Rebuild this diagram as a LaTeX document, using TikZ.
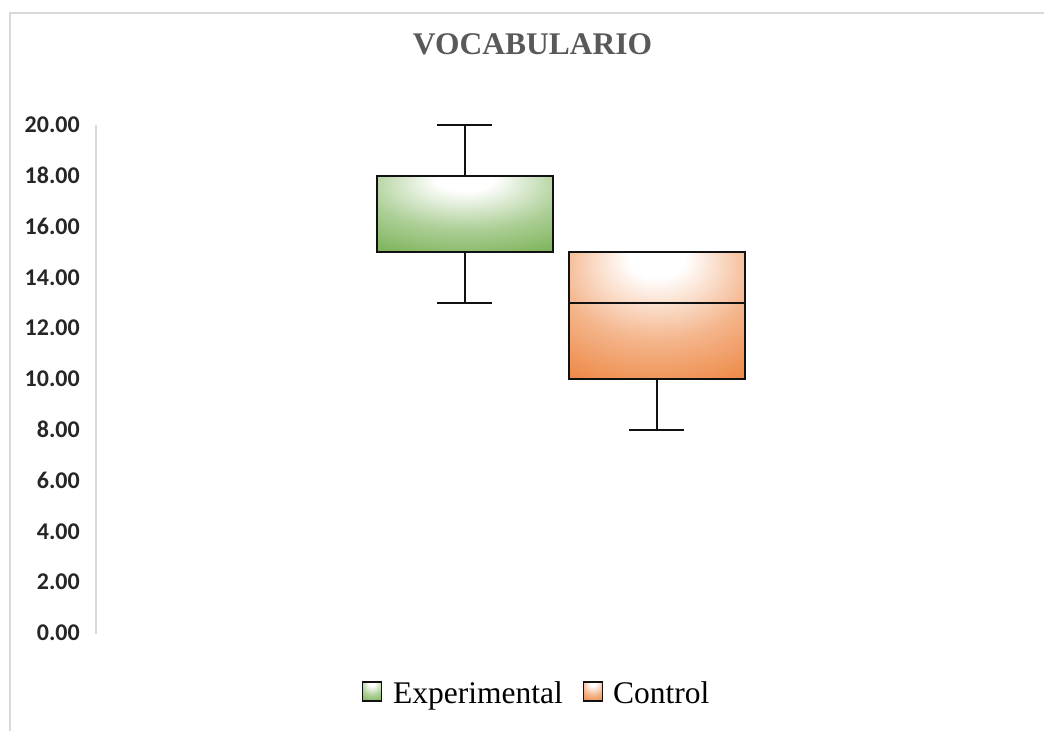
\documentclass[tikz,border=0pt]{standalone}
\usepackage{fontspec}
\setmainfont{Liberation Serif}
\newfontfamily\axisfont{Carlito}
\definecolor{grn}{HTML}{6AA842}
\definecolor{org}{HTML}{EB782C}
\definecolor{framec}{HTML}{D9D9D9}
\definecolor{titlec}{HTML}{595959}
\definecolor{edgec}{HTML}{111111}
\colorlet{grnmid}{grn!55!white}
\colorlet{orgmid}{org!55!white}
\pgfdeclareradialshading{grnshade}{\pgfpoint{0bp}{25bp}}{color(0bp)=(white); color(8bp)=(white); color(28bp)=(grnmid); color(52bp)=(grn); color(100bp)=(grn)}
\pgfdeclareradialshading{orgshade}{\pgfpoint{0bp}{25bp}}{color(0bp)=(white); color(8bp)=(white); color(28bp)=(orgmid); color(52bp)=(org); color(100bp)=(org)}
\tikzset{
  boxstyle/.style={draw=edgec, line width=1.5pt, inner sep=0pt, outer sep=0pt, minimum width=176pt},
  whisk/.style={draw=edgec, line width=1.5pt},
  ticklabel/.style={anchor=east, inner sep=0pt, font=\axisfont\bfseries\fontsize{24}{24}\selectfont, text=black!85},
  legsq/.style={draw=edgec, line width=1.2pt, inner sep=0pt, outer sep=0pt, minimum width=19pt, minimum height=19pt},
  legtext/.style={anchor=base west, inner sep=0pt, font=\fontsize{31.5}{32}\selectfont}
}
\begin{document}
\begin{tikzpicture}[x=1pt,y=1pt]
\useasboundingbox (0,0) rectangle (1044,731);
% frame
\draw[framec, line width=1.3pt] (10,0) -- (10,718) -- (1044,718);
% title
\node[anchor=base, inner sep=0pt, text=titlec, font=\bfseries\fontsize{31.5}{32}\selectfont] (title) at (532.5,676) {VOCABULARIO};
% axis
\coordinate (axb) at (96,97);
\coordinate (axt) at (96,606);
\draw[framec, line width=1.5pt] (axb) -- (axt);
\foreach \v/\t in {0/0.00,2/2.00,4/4.00,6/6.00,8/8.00,10/10.00,12/12.00,14/14.00,16/16.00,18/18.00,20/20.00}
  \node[ticklabel] (t\v) at (80, 98+25.4*\v) {\t};
% Experimental box
\node[boxstyle, minimum height=76.2pt, shading=grnshade] (gbox) at (465,517.1) {};
\coordinate (gmax) at (465,606);
\coordinate (gmin) at (465,428.2);
\coordinate (gmaxl) at (437,606); \coordinate (gmaxr) at (492,606);
\coordinate (gminl) at (437,428.2); \coordinate (gminr) at (492,428.2);
\draw[whisk] (gbox.north) -- (gmax);
\draw[whisk] (gmaxl) -- (gmaxr);
\draw[whisk] (gbox.south) -- (gmin);
\draw[whisk] (gminl) -- (gminr);
% Control box
\node[boxstyle, minimum height=127pt, shading=orgshade] (obox) at (657,415.5) {};
\coordinate (omedl) at (569,428.2); \coordinate (omedr) at (745,428.2);
\draw[whisk] (omedl) -- (omedr);
\coordinate (omin) at (657,301.2);
\coordinate (ominl) at (629,301.2); \coordinate (ominr) at (684,301.2);
\draw[whisk] (obox.south) -- (omin);
\draw[whisk] (ominl) -- (ominr);
% legend
\node[legsq, shading=grnshade] (lg) at (372,39.5) {};
\node[legtext] (lgt) at (393,28) {Experimental};
\node[legsq, shading=orgshade] (lo) at (593,39.5) {};
\node[legtext] (lot) at (613,28) {Control};
\end{tikzpicture}
\end{document}
